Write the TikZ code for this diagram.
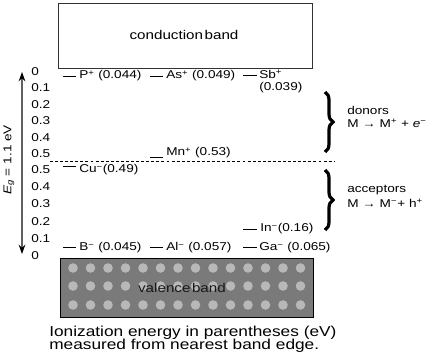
\documentclass[tikz,border=0pt]{standalone}
\usepackage{fontspec}
\setmainfont[FakeStretch=1.2]{Liberation Sans}
\usetikzlibrary{decorations.pathreplacing,arrows.meta}
\begin{document}
\begin{tikzpicture}[x=0.75pt,y=-0.75pt,
  lbl/.style={font=\fontsize{8.5}{10}\selectfont, inner sep=0pt, anchor=west},
  tick/.style={font=\fontsize{8.5}{10}\selectfont, inner sep=0pt, anchor=west},
  lvl/.style={line width=0.6pt, black},
  bracestyle/.style={decorate, decoration={brace, amplitude=6pt}, line width=2.4pt, black},
  side/.style={font=\fontsize{8.5}{10}\selectfont, inner sep=0pt, anchor=west},
  note/.style={font=\fontsize{10.8}{12}\selectfont, inner sep=0pt, anchor=base west}]
\useasboundingbox (0,0) rectangle (437,360);
% conduction band
\draw[black!80, line width=0.6pt] (58,3) rectangle (312,68);
\node[font=\fontsize{9.5}{11}\selectfont, inner sep=0pt] (cb) at (184,35) {conduction\hspace{0.12em}band};
% valence band
\fill[black!52] (60,258) rectangle (313,317);
\begin{scope}
\clip (60,258) rectangle (313,317);
\foreach \yy in {268,286,305} {
  \foreach \xx in {73,90.5,...,315} {
    \fill[black!28] (\xx,\yy) circle (4.8);
  }
}
\end{scope}
\draw[black, line width=0.6pt] (60,258) rectangle (313,317);
\node[font=\fontsize{9.5}{11}\selectfont, inner sep=0pt, text=black!90] (vb) at (182,288) {valence\hspace{0.12em}band};
% energy axis
\coordinate (atop) at (22,72);
\coordinate (abot) at (22,254);
\draw[gray!75!black, line width=0.8pt, {Stealth[length=7pt,width=5pt,black]}-{Stealth[length=7pt,width=5pt,black]}] (atop) -- (abot);
\node[rotate=90, font=\fontsize{8.5}{10}\selectfont, inner sep=0pt] (eg) at (9,160) {\textit{E}\textsubscript{\textit{g}} = 1.1 eV};
% tick labels
\foreach \v/\yy [count=\i] in {0/71.5,0.1/88,0.2/104.5,0.3/121,0.4/137.5,0.5/154} {
  \node[tick] (tu\i) at (31,\yy) {\v};
}
\foreach \v/\yy [count=\i] in {0.5/169.5,0.4/186.7,0.3/203.9,0.2/221.1,0.1/238.3,0/255.5} {
  \node[tick] (tl\i) at (31,\yy) {\v};
}
% mid-gap dashed line
\draw[dashed, dash pattern=on 2.2pt off 1.6pt, line width=0.6pt] (50,161) -- (335,161);
% donor levels
\draw[lvl] (63,76) -- (76,76);
\node[lbl] (P) at (79,76) {P\textsuperscript{+} (0.044)};
\draw[lvl] (150,76) -- (163,76);
\node[lbl] (As) at (166,76) {As\textsuperscript{+} (0.049)};
\draw[lvl] (243,75) -- (257,75);
\node[lbl] (Sb) at (259,74) {Sb\textsuperscript{+}};
\node[lbl] (Sbv) at (259,88) {(0.039)};
\draw[lvl] (150,157) -- (163,157);
\node[lbl] (Mn) at (166,153) {Mn\textsuperscript{+} (0.53)};
% acceptor levels
\draw[lvl] (63,166) -- (76,166);
\node[lbl] (Cu) at (79,170) {Cu\textsuperscript{−}(0.49)};
\draw[lvl] (243,229) -- (257,229);
\node[lbl] (In) at (260,229) {In\textsuperscript{−}(0.16)};
\draw[lvl] (63,247) -- (76,247);
\node[lbl] (B) at (79,248) {B\textsuperscript{−} (0.045)};
\draw[lvl] (150,247) -- (163,247);
\node[lbl] (Al) at (166,248) {Al\textsuperscript{−} (0.057)};
\draw[lvl] (243,247) -- (257,247);
\node[lbl] (Ga) at (259,248) {Ga\textsuperscript{−} (0.065)};
% braces
\coordinate (d1) at (325,92);
\coordinate (d2) at (325,152);
\draw[bracestyle] (d1) -- (d2);
\coordinate (a1) at (325,170);
\coordinate (a2) at (325,230);
\draw[bracestyle] (a1) -- (a2);
\node[side] (don) at (347,110) {donors};
\node[side] (donr) at (347,123) {M → M\textsuperscript{+} + \textit{e}\textsuperscript{−}};
\node[side] (acc) at (347,190) {acceptors};
\node[side] (accr) at (347,203) {M → M\textsuperscript{−}+ h\textsuperscript{+}};
% note
\node[note] (n1) at (49,336.5) {Ionization energy in parentheses (eV)};
\node[note] (n2) at (49,350) {measured from nearest band edge.};
\end{tikzpicture}
\end{document}
